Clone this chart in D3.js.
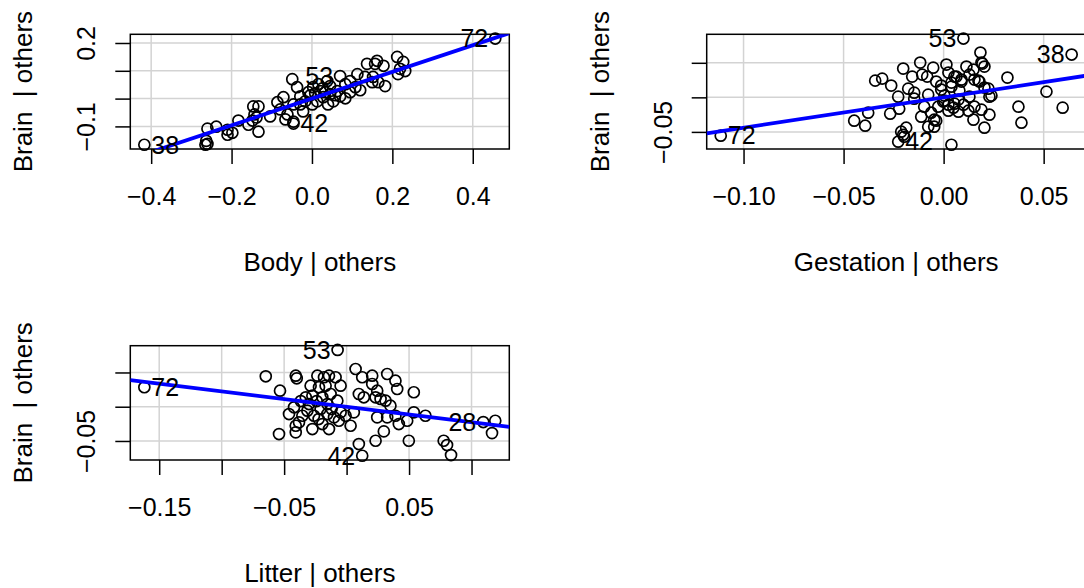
<!DOCTYPE html>
<meta charset="utf-8">
<style>
    body { margin: 0; background: #fff; }
    svg { font-family: "Liberation Sans", Arial, sans-serif; }
    .grid line { stroke: #d3d3d3; stroke-width: 1.5; }
    .axis path { display: none; }
    .axis line { stroke: #000; stroke-width: 1.5; }
    .axis text { font-size: 25px; fill: #000; }
    .pt { fill: none; stroke: #000; stroke-width: 1.7; }
    .lab { font-size: 25px; fill: #000; }
    .title { font-size: 26px; fill: #000; white-space: pre; }
</style>
<body>
<script src="https://d3js.org/d3.v7.min.js"></script>
<script>
// residuals: [x | others, Brain | others]
// the first four entries of each panel are the labelled cases
var bodyPts = [
    [-0.417, -0.166], [-0.046, -0.090], [0.070, 0.081], [0.456, 0.216],
    [-0.263, -0.152], [-0.265, -0.166], [-0.260, -0.163], [-0.260, -0.108], [-0.238, -0.101],
    [-0.210, -0.112], [-0.198, -0.123], [-0.210, -0.130], [-0.183, -0.079], [-0.158, -0.094],
    [-0.148, -0.079], [-0.143, -0.057], [-0.138, -0.068], [-0.133, -0.119], [-0.146, -0.028],
    [-0.133, -0.028], [-0.086, -0.013], [-0.071, 0.005], [-0.079, -0.039], [-0.061, -0.057],
    [-0.046, -0.083], [-0.046, -0.021], [-0.049, 0.070], [-0.037, 0.041], [-0.029, 0.008],
    [-0.017, -0.010], [-0.022, -0.046], [-0.009, 0.023], [0.003, 0.041], [0.016, 0.052],
    [0.021, 0.027], [0.013, -0.010], [0.028, 0.005], [0.038, 0.063], [0.045, 0.045],
    [0.045, 0.016], [0.040, -0.021], [0.053, -0.010], [0.063, 0.027], [0.083, 0.052],
    [0.095, 0.063], [0.095, 0.023], [0.108, 0.041], [0.113, 0.088], [0.137, 0.125],
    [0.132, 0.078], [0.162, 0.136], [0.165, 0.059], [-0.066, -0.075], [-0.104, -0.064],
    [0.157, 0.125], [0.178, 0.118], [0.150, 0.059], [0.182, 0.045], [0.212, 0.150],
    [0.227, 0.132], [0.219, 0.107], [0.214, 0.088], [0.232, 0.099], [0.152, 0.078],
    [-0.004, 0.012], [0.008, 0.019], [0.026, 0.037], [0.058, 0.012], [-0.029, -0.021],
    [0.070, 0.008], [0.083, 0.001], [0.001, -0.021], [0.033, 0.023], [0.120, 0.030]
];
var bodyLab = ["38", "42", "53", "72"];
var bodySide = ["right", "right", "left", "left"];

var gestPts = [
    [-0.1114, -0.0555], [-0.0227, -0.0642], [0.0099, 0.0851], [0.0640, 0.0619],
    [-0.0447, -0.0338], [-0.0392, -0.0410], [-0.0377, -0.0222], [-0.0267, -0.0236], [-0.0222, -0.0164],
    [-0.0342, 0.0242], [-0.0307, 0.0271], [-0.0262, 0.0170], [-0.0227, 0.0010], [-0.0202, 0.0416],
    [-0.0177, 0.0126], [-0.0157, 0.0300], [-0.0147, 0.0068], [-0.0117, 0.0503], [-0.0107, 0.0329],
    [-0.0082, 0.0300], [-0.0077, 0.0039], [-0.0052, 0.0430], [-0.0037, 0.0228], [-0.0012, 0.0112],
    [0.0014, 0.0474], [0.0024, 0.0358], [0.0039, 0.0213], [0.0064, 0.0300], [0.0089, 0.0257],
    [0.0114, 0.0445], [0.0129, 0.0329], [0.0149, 0.0401], [0.0154, 0.0257], [0.0184, 0.0648],
    [0.0189, 0.0503], [0.0179, 0.0228], [0.0204, 0.0141], [0.0229, 0.0010], [0.0189, -0.0178],
    [0.0229, -0.0251], [0.0149, -0.0323], [0.0204, -0.0439], [-0.0097, -0.0135], [-0.0062, -0.0222],
    [-0.0047, -0.0323], [-0.0027, -0.0135], [-0.0002, -0.0062], [0.0024, -0.0106], [0.0049, -0.0149],
    [0.0074, -0.0033], [0.0099, -0.0106], [0.0129, 0.0010], [-0.0077, -0.0425], [-0.0047, -0.0425],
    [-0.0197, -0.0570], [-0.0187, -0.0439], [-0.0202, -0.0541], [0.0039, -0.0686], [0.0319, 0.0286],
    [0.0514, 0.0083], [0.0595, -0.0149], [0.0374, -0.0135], [0.0389, -0.0367], [0.0194, 0.0488],
    [0.0204, 0.0445], [0.0054, 0.0300], [0.0089, 0.0228], [0.0039, 0.0155], [0.0079, 0.0097],
    [0.0004, -0.0048], [0.0054, -0.0091], [0.0024, -0.0193], [0.0074, -0.0207], [0.0124, -0.0193],
    [0.0154, -0.0135], [-0.0147, -0.0019], [-0.0112, -0.0280], [-0.0037, -0.0338], [-0.0212, -0.0497],
    [-0.0012, 0.0170], [0.0004, 0.0025], [0.0239, 0.0025], [0.0224, 0.0126], [0.0174, 0.0242]
];
var gestLab = ["72", "42", "53", "38"];
var gestSide = ["right", "right", "left", "left"];

var litterPts = [
    [-0.1619, 0.0284], [-0.0072, 0.0829], [0.0125, -0.0716], [0.1094, -0.0224],
    [-0.0647, 0.0444], [-0.0533, 0.0234], [-0.0541, -0.0399], [-0.0407, 0.0453], [-0.0399, 0.0415],
    [-0.0461, -0.0107], [-0.0407, -0.0278], [-0.0407, -0.0374], [-0.0381, -0.0228], [-0.0421, -0.0009],
    [-0.0327, 0.0137], [-0.0288, 0.0307], [-0.0234, 0.0453], [-0.0181, 0.0430], [-0.0141, 0.0453],
    [-0.0088, 0.0430], [-0.0048, 0.0307], [-0.0221, 0.0284], [-0.0168, 0.0307], [-0.0128, 0.0186],
    [-0.0074, 0.0088], [-0.0314, -0.0058], [-0.0261, -0.0132], [-0.0208, -0.0034], [-0.0154, -0.0107],
    [-0.0101, -0.0155], [-0.0048, -0.0082], [-0.0274, -0.0326], [-0.0194, -0.0253], [-0.0141, -0.0326],
    [-0.0062, -0.0205], [-0.0008, -0.0132], [0.0058, -0.0082], [0.0032, -0.0278], [-0.0354, -0.0132],
    [-0.0274, 0.0161], [-0.0194, 0.0137], [-0.0301, 0.0039], [-0.0154, 0.0039], [0.0072, 0.0551],
    [0.0125, 0.0430], [0.0205, 0.0453], [0.0205, 0.0332], [0.0098, 0.0186], [0.0138, 0.0137],
    [0.0245, 0.0234], [0.0325, 0.0478], [0.0391, 0.0380], [0.0405, 0.0259], [0.0232, 0.0137],
    [0.0272, 0.0113], [0.0312, 0.0088], [0.0351, 0.0015], [0.0245, -0.0155], [0.0325, -0.0155],
    [0.0391, -0.0132], [0.0298, -0.0360], [0.0232, -0.0497], [0.0098, -0.0545], [0.0418, -0.0253],
    [0.0485, -0.0205], [0.0538, -0.0082], [0.0538, 0.0211], [0.0498, -0.0497], [0.0631, -0.0132],
    [0.0777, -0.0497], [0.0804, -0.0560], [0.0836, -0.0706], [0.1190, -0.0205], [0.1164, -0.0385],
    [-0.0367, 0.0083], [-0.0240, 0.0083], [-0.0120, -0.0034], [-0.0224, -0.0180]
];
var litterLab = ["72", "53", "42", "28"];
var litterSide = ["right", "left", "left", "left"];

// fitted slopes of the added-variable regressions
var slopes = [0.48, 0.44, -0.225];

var xTitles = ["Body | others", "Gestation | others", "Litter | others"];
var yTitle = "Brain  | others";

var xTicks = [[-0.4, -0.2, 0, 0.2, 0.4], [-0.10, -0.05, 0, 0.05], [-0.15, -0.10, -0.05, 0, 0.05, 0.10]];
var xTickLabels = [["\u22120.4", "\u22120.2", "0.0", "0.2", "0.4"],
                   ["\u22120.10", "\u22120.05", "0.00", "0.05"],
                   ["\u22120.15", "", "\u22120.05", "", "0.05", ""]];
var yTicks = [[-0.1, 0, 0.1, 0.2], [-0.05, 0, 0.05], [-0.05, 0, 0.05]];
var yTickLabels = [["\u22120.1", "", "", "0.2"], ["\u22120.05", "", ""], ["\u22120.05", "", ""]];

var W = 1084, H = 588;

// plot boxes (pixels)
var boxes = [
    { left: 130.3, right: 509.3, top: 34.3, bottom: 149 },
    { left: 706.7, right: 1085.7, top: 34.3, bottom: 149 },
    { left: 130.3, right: 509.3, top: 345.7, bottom: 460 }
];

var svg = d3.select("body").append("svg")
    .attr("width", W)
    .attr("height", H);

var panels = [
    { pts: bodyPts, lab: bodyLab, side: bodySide },
    { pts: gestPts, lab: gestLab, side: gestSide },
    { pts: litterPts, lab: litterLab, side: litterSide }
];

// R style range: data extent padded by 4% on each side
function padded(vals) {
    var e = d3.extent(vals), d = (e[1] - e[0]) * 0.04;
    return [e[0] - d, e[1] + d];
}

panels.forEach(function(p, k) {
    var b = boxes[k];
    var x = d3.scaleLinear().domain(padded(p.pts.map(d => d[0]))).range([b.left, b.right]);
    var y = d3.scaleLinear().domain(padded(p.pts.map(d => d[1]))).range([b.bottom, b.top]);

    var g = svg.append("g");

    g.append("clipPath").attr("id", "clip" + k)
        .append("rect")
        .attr("x", b.left).attr("y", b.top)
        .attr("width", b.right - b.left).attr("height", b.bottom - b.top);

    // grid at tick positions
    var grid = g.append("g").attr("class", "grid");
    grid.selectAll(".gx").data(xTicks[k]).enter().append("line")
        .attr("x1", d => x(d)).attr("x2", d => x(d))
        .attr("y1", b.top).attr("y2", b.bottom);
    grid.selectAll(".gy").data(yTicks[k]).enter().append("line")
        .attr("y1", d => y(d)).attr("y2", d => y(d))
        .attr("x1", b.left).attr("x2", b.right);

    // axes
    g.append("g").attr("class", "axis")
        .attr("transform", "translate(0," + b.bottom + ")")
        .call(d3.axisBottom(x).tickValues(xTicks[k]).tickSize(15).tickPadding(23)
            .tickFormat((d, i) => xTickLabels[k][i]));

    var ya = g.append("g").attr("class", "axis")
        .attr("transform", "translate(" + b.left + ",0)")
        .call(d3.axisLeft(y).tickValues(yTicks[k]).tickSize(15)
            .tickFormat((d, i) => yTickLabels[k][i]));
    ya.selectAll("text")
        .attr("x", null).attr("dy", null)
        .attr("text-anchor", "middle")
        .attr("transform", "translate(-35,0) rotate(-90)");

    // box
    g.append("rect")
        .attr("x", b.left).attr("y", b.top)
        .attr("width", b.right - b.left).attr("height", b.bottom - b.top)
        .attr("fill", "none").attr("stroke", "#000").attr("stroke-width", 1.5);

    // points
    g.selectAll(".pt").data(p.pts).enter().append("circle")
        .attr("class", "pt")
        .attr("cx", d => x(d[0]))
        .attr("cy", d => y(d[1]))
        .attr("r", 5.5);

    // fitted line through the origin
    var xd = x.domain();
    g.append("line")
        .attr("clip-path", "url(#clip" + k + ")")
        .attr("x1", x(xd[0])).attr("y1", y(slopes[k] * xd[0]))
        .attr("x2", x(xd[1])).attr("y2", y(slopes[k] * xd[1]))
        .attr("stroke", "#0000ff").attr("stroke-width", 3.8);

    // case labels
    p.lab.forEach(function(t, i) {
        var d = p.pts[i], right = p.side[i] == "right";
        g.append("text").attr("class", "lab")
            .attr("x", x(d[0]) + (right ? 7 : -7))
            .attr("y", y(d[1]))
            .attr("dy", "0.35em")
            .attr("text-anchor", right ? "start" : "end")
            .text(t);
    });

    // titles
    g.append("text").attr("class", "title")
        .attr("x", (b.left + b.right) / 2)
        .attr("y", b.bottom + 122)
        .attr("text-anchor", "middle")
        .text(xTitles[k]);

    g.append("text").attr("class", "title")
        .attr("transform", "translate(" + (b.left - 98) + "," + (b.top + b.bottom) / 2 + ") rotate(-90)")
        .attr("text-anchor", "middle")
        .text(yTitle);
});
</script>
</body>
